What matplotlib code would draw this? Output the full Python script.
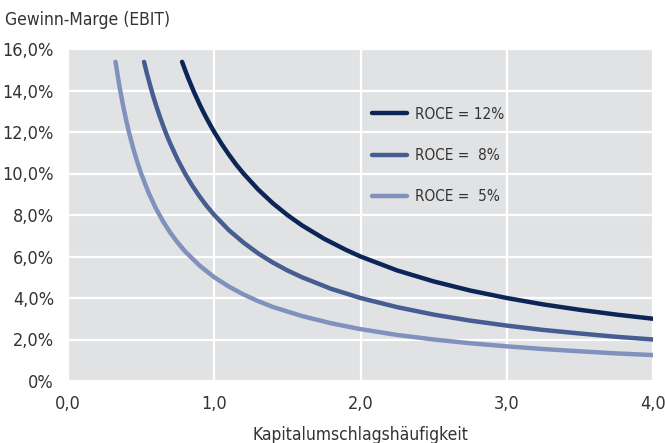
import matplotlib
matplotlib.use("Agg")
import matplotlib.pyplot as plt
from matplotlib.ticker import FixedLocator
from matplotlib.lines import Line2D

plt.rcParams['font.family'] = ['DejaVu Sans']
plt.rcParams['font.stretch'] = 'condensed'

# Data (x = Kapitalumschlagshäufigkeit, y = Gewinn-Marge in %)
x12 = [0.78, 0.80, 0.82, 0.84, 0.86, 0.88, 0.9, 0.925, 0.95, 0.975, 1.0, 1.05, 1.1, 1.15, 1.2, 1.3, 1.4, 1.5, 1.6, 1.75, 1.9, 2.0, 2.25, 2.5, 2.75, 3.0, 3.25, 3.5, 3.75, 4.0]
y12 = [15.38, 15.0, 14.63, 14.29, 13.95, 13.64, 13.33, 12.97, 12.63, 12.31, 12.0, 11.43, 10.91, 10.43, 10.0, 9.23, 8.57, 8.0, 7.5, 6.86, 6.32, 6.0, 5.33, 4.8, 4.36, 4.0, 3.69, 3.43, 3.2, 3.0]

x8 = [0.52, 0.54, 0.56, 0.58, 0.6, 0.625, 0.65, 0.675, 0.7, 0.75, 0.8, 0.85, 0.9, 0.95, 1.0, 1.1, 1.2, 1.3, 1.4, 1.5, 1.6, 1.8, 2.0, 2.25, 2.5, 2.75, 3.0, 3.25, 3.5, 3.75, 4.0]
y8 = [15.38, 14.81, 14.29, 13.79, 13.33, 12.8, 12.31, 11.85, 11.43, 10.67, 10.0, 9.41, 8.89, 8.42, 8.0, 7.27, 6.67, 6.15, 5.71, 5.33, 5.0, 4.44, 4.0, 3.56, 3.2, 2.91, 2.67, 2.46, 2.29, 2.13, 2.0]

x5 = [0.325, 0.34, 0.355, 0.37, 0.385, 0.4, 0.42, 0.45, 0.475, 0.5, 0.55, 0.6, 0.65, 0.7, 0.75, 0.8, 0.9, 1.0, 1.1, 1.2, 1.3, 1.4, 1.6, 1.8, 2.0, 2.25, 2.5, 2.75, 3.0, 3.25, 3.5, 3.75, 4.0]
y5 = [15.38, 14.71, 14.08, 13.51, 12.99, 12.5, 11.9, 11.11, 10.53, 10.0, 9.09, 8.33, 7.69, 7.14, 6.67, 6.25, 5.56, 5.0, 4.55, 4.17, 3.85, 3.57, 3.13, 2.78, 2.5, 2.22, 2.0, 1.82, 1.67, 1.54, 1.43, 1.33, 1.25]

labels = ["ROCE = 12%", "ROCE =  8%", "ROCE =  5%"]
colors = ["#0c2557", "#455d90", "#8091bd"]

xticks = [0, 1, 2, 3, 4]
xticklabels = ["0,0", "1,0", "2,0", "3,0", "4,0"]
yticks = [0, 2, 4, 6, 8, 10, 12, 14, 16]
yticklabels = ["0%", "2,0%", "4,0%", "6,0%", "8,0%", "10,0%", "12,0%", "14,0%", "16,0%"]

fig = plt.figure(figsize=(6.65, 4.43), dpi=100)
ax = fig.add_axes([68/665, 1-381/443, (653-68)/665, (381-49)/443])
ax.set_facecolor("#e1e2e4")
for s in ax.spines.values():
    s.set_visible(False)

ax.set_xlim(0, 4)
ax.set_ylim(0, 16)
ax.xaxis.set_major_locator(FixedLocator(xticks))
ax.yaxis.set_major_locator(FixedLocator(yticks))
ax.set_xticklabels(xticklabels)
ax.set_yticklabels(yticklabels)
ax.tick_params(axis="y", length=0, labelsize=13, colors="#333333", pad=10)
ax.tick_params(axis="x", length=0, labelsize=13, colors="#333333", pad=10)
ax.grid(True, color="white", linewidth=1.6)
ax.set_axisbelow(True)

for xs, ys, c in [(x12, y12, colors[0]), (x8, y8, colors[1]), (x5, y5, colors[2])]:
    ax.plot(xs, ys, color=c, linewidth=3.2, solid_capstyle="round", solid_joinstyle="round")

handles = [Line2D([0], [0], color=c, linewidth=3.2, solid_capstyle="round") for c in colors]
leg = ax.legend(handles, labels, loc="upper left", bbox_to_anchor=((358-68)/585, 1-(93-49)/332),
                frameon=False, fontsize=11, handlelength=2.3, handletextpad=0.5,
                labelspacing=1.72, labelcolor="#333333")

fig.text(5/665, 1-20/443, "Gewinn-Marge (EBIT)", fontsize=12.5, color="#333333", va="center", ha="left")
fig.text(360/665, 1-435/443, "Kapitalumschlagshäufigkeit", fontsize=12.5, color="#333333", va="center", ha="center")

fig.savefig("out.png", dpi=100)
